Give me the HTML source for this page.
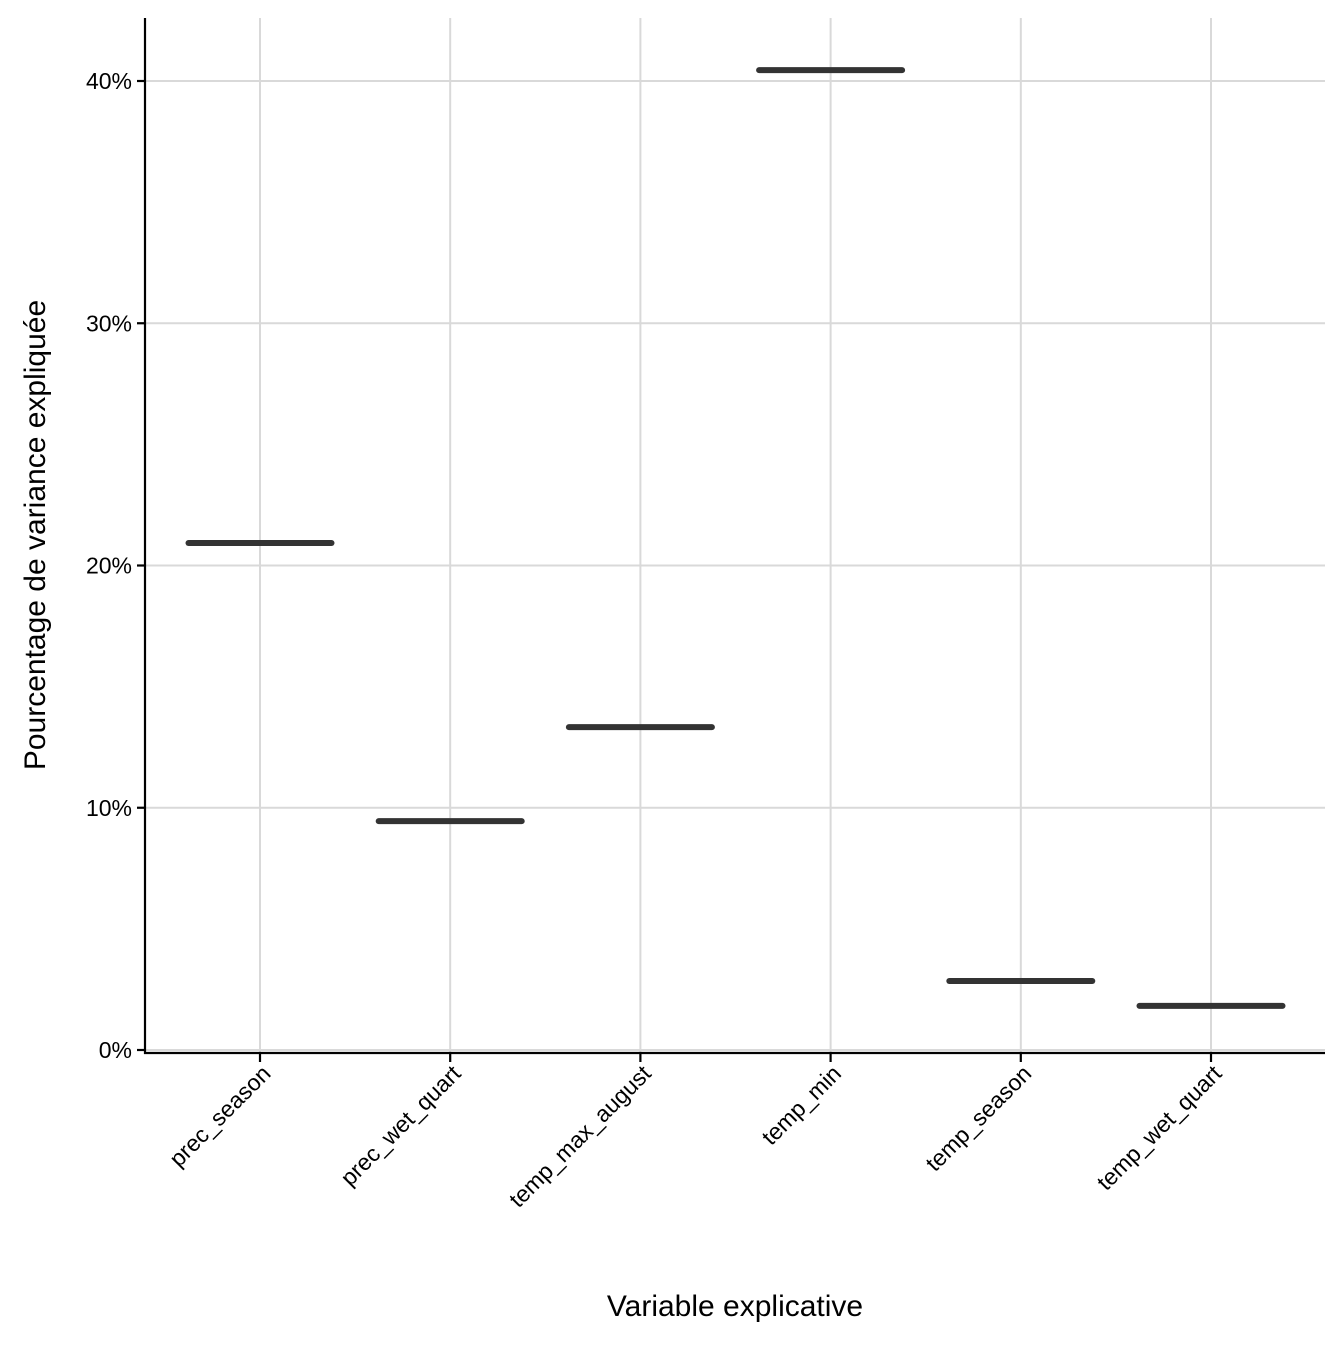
<!DOCTYPE html>
<html><head><meta charset="utf-8"><style>
html,body{margin:0;padding:0;background:#fff;}
svg text{font-family:"Liberation Sans",Arial,sans-serif;}
</style></head><body>
<svg id="chart" width="1344" height="1344" xmlns="http://www.w3.org/2000/svg">
<g id="grid"></g>
<g id="marks"></g>
<g id="axes"></g>
<text x="735" y="1316" font-size="30" text-anchor="middle" fill="#000">Variable explicative</text>
<text transform="translate(45,535) rotate(-90)" font-size="30" text-anchor="middle" fill="#000">Pourcentage de variance expliquée</text>
</svg>
<script>
const categories = ["prec_season","prec_wet_quart","temp_max_august","temp_min","temp_season","temp_wet_quart"];
const values = [20.93, 9.45, 13.33, 40.45, 2.85, 1.82];
const yTicks = [0, 10, 20, 30, 40];
const yTickLabels = ["0%","10%","20%","30%","40%"];

const NS = "http://www.w3.org/2000/svg";
const pLeft = 145, pRight = 1325, pTop = 18, pBottom = 1053;
const yScale = v => 1050 - v * 24.225;
const xScale = i => 260 + i * 190.2;
const boxW = 143;
function mk(tag, attrs, parent){const e=document.createElementNS(NS,tag);for(const k in attrs)e.setAttribute(k,attrs[k]);parent.appendChild(e);return e;}
const gridG=document.getElementById('grid'), marksG=document.getElementById('marks'), axesG=document.getElementById('axes');

yTicks.forEach((t,i)=>{
  const g = mk('line',{x1:pLeft,x2:pRight,y1:yScale(t),y2:yScale(t),stroke:'#d9d9d9','stroke-width':2},gridG);
  
  
  const tk = mk('line',{x1:pLeft-8,x2:pLeft,y1:yScale(t),y2:yScale(t),stroke:'#000','stroke-width':2.2},axesG);
  
  
  const tx = mk('text',{x:pLeft-13,y:yScale(t)+8,'font-size':23,'text-anchor':'end',fill:'#000'},axesG);
  tx.textContent = yTickLabels[i];
  
  
});
categories.forEach((c,i)=>{
  const g = mk('line',{x1:xScale(i),x2:xScale(i),y1:pTop,y2:pBottom,stroke:'#d9d9d9','stroke-width':2},gridG);
  
  
  const m = mk('line',{x1:xScale(i)-boxW/2,x2:xScale(i)+boxW/2,y1:yScale(values[i]),y2:yScale(values[i]),stroke:'#333','stroke-width':6,'stroke-linecap':'round'},marksG);
  
  
  const tk = mk('line',{x1:xScale(i),x2:xScale(i),y1:pBottom,y2:pBottom+9,stroke:'#000','stroke-width':2.2},axesG);
  
  
  const tx = mk('text',{transform:`translate(${xScale(i)+12},${pBottom+22}) rotate(-45)`,'font-size':23,'text-anchor':'end',fill:'#000'},axesG);
  tx.textContent = c;
  
  
});
const ya = mk('line',{x1:pLeft,x2:pLeft,y1:pTop,y2:pBottom+1,stroke:'#000','stroke-width':2.2},axesG);


const xa = mk('line',{x1:pLeft-1,x2:pRight,y1:pBottom,y2:pBottom,stroke:'#000','stroke-width':2.2},axesG);


</script>
</body></html>
